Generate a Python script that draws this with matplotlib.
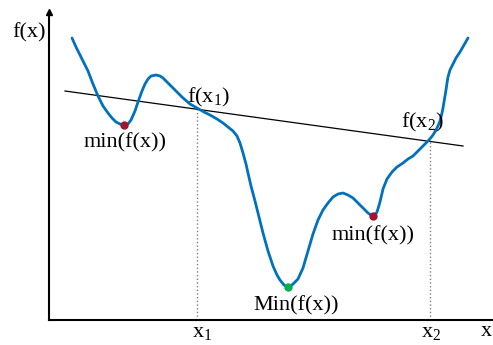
import matplotlib
matplotlib.use("Agg")
import matplotlib.pyplot as plt

# curve (x to the right, f upward, in picture units)
curve_x = [72, 76, 80, 84, 88, 93, 98, 103, 108, 112, 116, 120, 124, 128, 131, 135, 138,
           142, 145, 148, 151, 156, 160, 163, 167, 170, 176, 183, 190, 197, 204, 210, 217,
           223, 228, 233, 237, 240, 243, 246, 248, 251, 255, 259, 263, 268, 273, 277, 280,
           284, 288, 291, 294, 298, 303, 308, 313, 318, 323, 328, 333, 338, 343, 348, 353,
           358, 363, 368, 371, 373, 375, 377, 380, 383, 387, 392, 397, 403, 408, 413, 417,
           421, 425, 429, 433, 436, 438, 440, 442, 443, 444, 445, 446, 447, 448, 450, 453,
           456, 460, 464, 468]
curve_py = [38, 47, 55, 63, 71, 84, 96, 106, 113, 118, 122, 124, 125, 124, 120, 111, 102,
            91, 84, 79, 76, 75, 76, 78, 82, 85, 91, 98, 104, 108, 112, 115, 119,
            123, 127, 131, 136, 143, 153, 164, 173, 186, 201, 217, 233, 251, 266, 275, 280,
            285, 287, 286, 283, 279, 268, 251, 234, 220, 210, 203, 197, 194, 193, 195, 198,
            203, 208, 213, 215, 216, 215, 212, 202, 189, 179, 172, 167, 163, 159, 156, 152,
            148, 144, 140, 135, 130, 126, 121, 113, 108, 102, 96, 90, 83, 77, 70, 64,
            58, 52, 45, 38]
curve_f = [345 - p for p in curve_py]

# secant through f(x1) and f(x2)
secant_x = [65, 463]
secant_f = [345 - 91, 345 - 146]

x1, x2 = 197, 430
fx1, fx2 = 345 - 109, 345 - 141

local_min_x = [124, 373]
local_min_f = [345 - 125, 345 - 216]
global_min_x = [288]
global_min_f = [345 - 287]

blue = "#0072BD"
dark_red = "#A2142F"
green = "#00B050"

plt.rcParams["font.family"] = ["Liberation Serif", "DejaVu Serif"]
plt.rcParams["mathtext.fontset"] = "custom"
plt.rcParams["mathtext.rm"] = "Liberation Serif"
plt.rcParams["mathtext.it"] = "Liberation Serif:italic"

fig = plt.figure(figsize=(4.93, 3.45), dpi=100)
ax = fig.add_axes([49 / 493, 25 / 345, 444 / 493, 308 / 345])
ax.set_xlim(49, 493)
ax.set_ylim(25, 333)

for side in ["top", "right"]:
    ax.spines[side].set_visible(False)
for side in ["left", "bottom"]:
    ax.spines[side].set_linewidth(1.5)
ax.set_xticks([])
ax.set_yticks([])
ax.plot(0, 1, marker="^", color="black", markersize=5, transform=ax.transAxes,
        clip_on=False)

ax.plot([x1, x1], [25, fx1], color="gray", lw=1, ls=":")
ax.plot([x2, x2], [25, fx2], color="gray", lw=1, ls=":")
ax.plot(secant_x, secant_f, color="black", lw=0.9)
ax.plot(curve_x, curve_f, color=blue, lw=2, solid_capstyle="round",
        solid_joinstyle="round")
ax.plot(local_min_x, local_min_f, "o", color=dark_red, markersize=5, zorder=5)
ax.plot(global_min_x, global_min_f, "o", color=green, markersize=5, zorder=5)

fs = 16
ax.text(29, 345 - 33, "f(x)", fontsize=fs, ha="center", va="center", clip_on=False)
ax.text(125, 345 - 143, "min(f(x))", fontsize=fs, ha="center", va="center")
ax.text(373, 345 - 236, "min(f(x))", fontsize=fs, ha="center", va="center")
ax.text(296, 345 - 306, "Min(f(x))", fontsize=fs, ha="center", va="center")
ax.text(208, 345 - 97, "f(x$_1$)", fontsize=fs, ha="center", va="center")
ax.text(422, 345 - 122, "f(x$_2$)", fontsize=fs, ha="center", va="center")
ax.text(202, 345 - 333, "x$_1$", fontsize=fs, ha="center", va="center", clip_on=False)
ax.text(431, 345 - 332, "x$_2$", fontsize=fs, ha="center", va="center", clip_on=False)
ax.text(486, 345 - 331, "x", fontsize=fs, ha="center", va="center", clip_on=False)

fig.savefig("out.png", dpi=100)
